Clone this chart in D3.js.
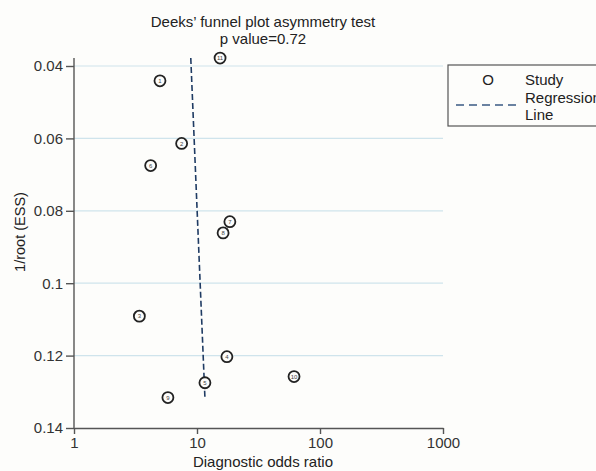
<!DOCTYPE html>
<html lang="en">
<head>
  <title>Deeks funnel plot</title>
  <script src="https://d3js.org/d3.v7.min.js"></script>
  <style>
    body { margin: 0; background: #fdfdfb; }
    svg { font-family: "Liberation Sans", Arial, sans-serif; }
  </style>
</head>
<body>
  <div id="my_dataviz"></div>
  <script>
    // study values
    const studyIds = [1, 2, 3, 4, 5, 6, 7, 8, 9, 10, 11];
    const oddsRatio = [5.0, 7.5, 3.4, 17.5, 11.6, 4.2, 18.5, 16.3, 5.8, 61.5, 15.4];
    const invRootEss = [0.0441, 0.0614, 0.1091, 0.1203, 0.1275, 0.0675, 0.0830, 0.0861, 0.1316, 0.1258, 0.0378];

    // regression line end points
    const regOdds = [8.9, 11.6];
    const regY = [0.0378, 0.1317];

    const xTicks = [1, 10, 100, 1000];
    const yTicks = [0.04, 0.06, 0.08, 0.1, 0.12, 0.14];

    const width = 596, height = 471;

    const svg = d3.select("#my_dataviz")
      .append("svg")
        .attr("width", width)
        .attr("height", height);

    const x = d3.scaleLog()
      .domain([1, 1000])
      .range([74, 443]);

    const y = d3.scaleLinear()
      .domain([0.04, 0.14])
      .range([66, 428]);

    // grid lines
    svg.append("g")
      .selectAll("line")
      .data(yTicks.slice(0, -1))
      .join("line")
        .attr("x1", x(1))
        .attr("x2", x(1000))
        .attr("y1", d => y(d))
        .attr("y2", d => y(d))
        .attr("stroke", "#cfe4ec")
        .attr("stroke-width", 1.2);

    // Y axis
    const yAxis = svg.append("g")
      .attr("transform", `translate(${x(1)},0)`)
      .call(d3.axisLeft(y).tickValues(yTicks).tickFormat(d => d === 0.1 ? "0.1" : d3.format(".2f")(d)).tickSize(8).tickSizeOuter(0));
    yAxis.select(".domain").attr("d", `M0,${y(0.0378)}V${y(0.14)}`);

    // X axis
    svg.append("g")
      .attr("transform", `translate(0,${y(0.14)})`)
      .call(d3.axisBottom(x).tickValues(xTicks).tickFormat(d3.format("d")).tickSize(6).tickSizeOuter(0));

    svg.selectAll(".tick text").attr("font-size", 15).attr("fill", "#333");
    svg.selectAll(".domain, .tick line").attr("stroke", "#555").attr("stroke-width", 1.4);

    // regression line
    svg.append("line")
      .attr("x1", x(regOdds[0]))
      .attr("y1", y(regY[0]))
      .attr("x2", x(regOdds[1]))
      .attr("y2", y(regY[1]))
      .attr("stroke", "#1f3b63")
      .attr("stroke-width", 1.6)
      .attr("stroke-dasharray", "6,3");

    // study points
    const pts = svg.append("g")
      .selectAll("g")
      .data(studyIds)
      .join("g")
        .attr("transform", (d, i) => `translate(${x(oddsRatio[i])},${y(invRootEss[i])})`);
    pts.append("circle")
      .attr("r", 5.5)
      .attr("fill", "#fdfdfb")
      .attr("stroke", "#222")
      .attr("stroke-width", 1.8);
    pts.append("text")
      .attr("text-anchor", "middle")
      .attr("dy", "0.35em")
      .attr("font-size", 6)
      .attr("fill", "#444")
      .text(d => d);

    // titles
    const title = ["Deeks\u2019 funnel plot asymmetry test", "p value=0.72"];
    svg.selectAll("text.title")
      .data(title)
      .join("text")
        .attr("class", "title")
        .attr("x", 263)
        .attr("y", (d, i) => 27 + i * 17)
        .attr("text-anchor", "middle")
        .attr("font-size", 15)
        .attr("fill", "#222")
        .text(d => d);

    svg.append("text")
      .attr("x", 263).attr("y", 467)
      .attr("text-anchor", "middle")
      .attr("font-size", 15)
      .attr("fill", "#222")
      .text("Diagnostic odds ratio");

    svg.append("text")
      .attr("transform", "translate(25,232) rotate(-90)")
      .attr("text-anchor", "middle")
      .attr("font-size", 14.5)
      .attr("fill", "#222")
      .text("1/root (ESS)");

    // legend
    const lg = svg.append("g");
    lg.append("rect")
      .attr("x", 448).attr("y", 65)
      .attr("width", 160).attr("height", 61)
      .attr("fill", "none")
      .attr("stroke", "#555")
      .attr("stroke-width", 1.2);
    lg.append("text")
      .attr("x", 488).attr("y", 85)
      .attr("text-anchor", "middle")
      .attr("font-size", 15)
      .attr("fill", "#222")
      .text("O");
    lg.append("line")
      .attr("x1", 456).attr("x2", 521)
      .attr("y1", 105).attr("y2", 105)
      .attr("stroke", "#3a5a84")
      .attr("stroke-width", 1.6)
      .attr("stroke-dasharray", "8,5");
    lg.selectAll("text.lab")
      .data(["Study", "Regression", "Line"])
      .join("text")
        .attr("class", "lab")
        .attr("x", 525)
        .attr("y", (d, i) => 85 + i * 17.5)
        .attr("font-size", 15)
        .attr("fill", "#222")
        .text(d => d);
  </script>
</body>
</html>
